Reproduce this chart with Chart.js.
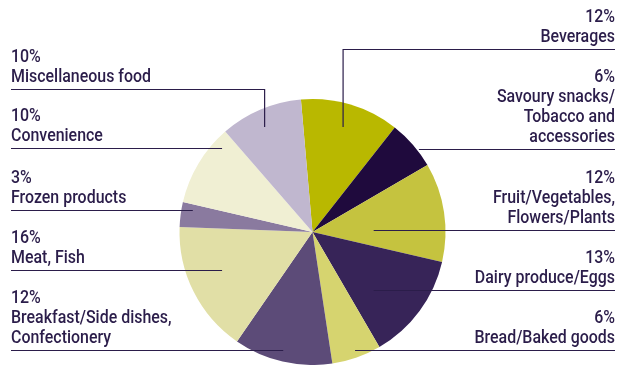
<!DOCTYPE html>
<html>
<head>
<meta charset="utf-8">
<script src="https://cdn.jsdelivr.net/npm/chart.js@4.4.1/dist/chart.umd.min.js"></script>
<style>
  html, body { margin: 0; padding: 0; background: #fff; }
  #wrap { width: 622px; height: 365px; }
</style>
</head>
<body>
<div id="wrap"><canvas id="myChart" width="622" height="365"></canvas></div>
<script>
// categories clockwise from the top
const categories = [
  ["Beverages"],
  ["Savoury snacks/", "Tobacco and", "accessories"],
  ["Fruit/Vegetables,", "Flowers/Plants"],
  ["Dairy produce/Eggs"],
  ["Bread/Baked goods"],
  ["Breakfast/Side dishes,", "Confectionery"],
  ["Meat, Fish"],
  ["Frozen products"],
  ["Convenience"],
  ["Miscellaneous food"]
];
const shares = [12, 6, 12, 13, 6, 12, 16, 3, 10, 10];
const colors = ["#b9b800", "#1f0a3d", "#c5c33f", "#372458", "#d6d46f",
                "#5c4b78", "#e1dfa6", "#8a7a9f", "#f0efd3", "#c0b7cf"];

// label layout: side, y of the rule under the label, where the leader ends (fraction of radius from centre)
const labelLayout = [
  { side: "right", rule: 49,  end: [0.23, -0.79], drop: true },
  { side: "right", rule: 149, end: [0.80, null] },
  { side: "right", rule: 230, end: [0.46, null] },
  { side: "right", rule: 290, end: [0.46, null] },
  { side: "right", rule: 350, end: [0.32, null] },
  { side: "left",  rule: 350, end: [-0.22, null] },
  { side: "left",  rule: 270, end: [-0.68, null] },
  { side: "left",  rule: 210, end: [-0.90, null] },
  { side: "left",  rule: 148, end: [-0.68, null] },
  { side: "left",  rule: 89,  end: [-0.36, -0.79], drop: true }
];

const ink = "#2b1d4a";
const fontSpec = '500 19px Roboto, "DejaVu Sans", sans-serif';

const leaderPlugin = {
  id: "leaders",
  afterDraw(chart) {
    const ctx = chart.ctx;
    const arc = chart.getDatasetMeta(0).data[0];
    const cx = arc.x, cy = arc.y, R = arc.outerRadius;
    ctx.save();
    ctx.font = fontSpec;
    // squeeze the face so it reads as a condensed type like the original
    const squeeze = 140 / ctx.measureText("Miscellaneous food").width;
    ctx.fillStyle = ink;
    ctx.strokeStyle = ink;
    ctx.lineWidth = 1.2;
    labelLayout.forEach((lay, i) => {
      const lines = [shares[i] + "%"].concat(categories[i]);
      const isRight = lay.side === "right";
      const tx = isRight ? 615 : 11;
      ctx.textAlign = isRight ? "right" : "left";
      ctx.textBaseline = "alphabetic";
      lines.forEach((t, k) => {
        const y = lay.rule - 7 - (lines.length - 1 - k) * 20;
        ctx.save();
        ctx.translate(tx, y);
        ctx.scale(squeeze, 1);
        ctx.fillText(t, 0, 0);
        ctx.restore();
      });
      const ex = cx + lay.end[0] * R;
      ctx.beginPath();
      ctx.moveTo(isRight ? 615 : 11, lay.rule + 0.5);
      ctx.lineTo(ex, lay.rule + 0.5);
      if (lay.drop) {
        ctx.lineTo(ex, cy + lay.end[1] * R);
      }
      ctx.stroke();
    });
    ctx.restore();
  }
};

const ctx = document.getElementById("myChart").getContext("2d");
const myChart = new Chart(ctx, {
  type: "pie",
  data: {
    labels: categories.map(c => c.join(" ")),
    datasets: [{
      data: shares,
      backgroundColor: colors,
      borderWidth: 0
    }]
  },
  options: {
    responsive: false,
    animation: false,
    rotation: -5,
    layout: { padding: { top: 99, bottom: 0, left: 3, right: 0 } },
    plugins: {
      legend: { display: false },
      tooltip: { enabled: false }
    }
  },
  plugins: [leaderPlugin]
});
</script>
</body>
</html>
